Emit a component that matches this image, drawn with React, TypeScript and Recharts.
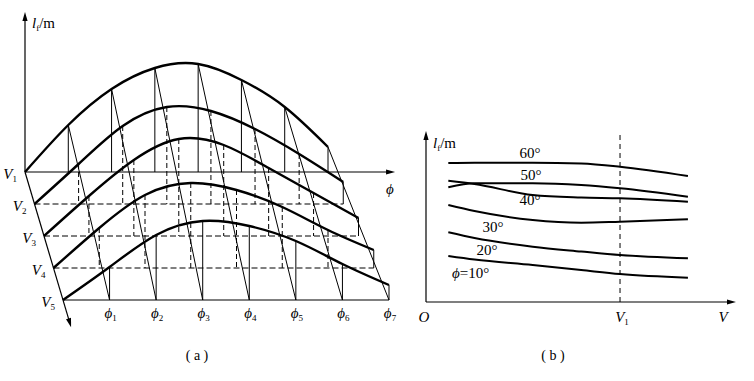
import React from 'react'
import { ComposedChart, Line, XAxis, YAxis, ReferenceLine } from 'recharts'

// ---- panel (a): l_f over phi0..phi7, one curve per speed plane V1..V5 (1 unit = 10 px)
const phiSubs = ['1', '2', '3', '4', '5', '6', '7']
const speedSubs = ['1', '2', '3', '4', '5']
const lfV1 = [0, 4.7, 8.3, 10.4, 10.8, 9.2, 6.5, 2.5]
const lfV2 = [0, 4.0, 7.8, 9.7, 9.3, 7.5, 5.0, 2.2]
const lfV3 = [0, 4.0, 7.6, 9.7, 9.1, 6.8, 4.3, 1.8]
const lfV4 = [0, 4.0, 7.3, 8.5, 7.8, 6.1, 3.8, 1.8]
const lfV5 = [0, 3.3, 6.5, 7.9, 7.4, 5.9, 3.6, 1.5]
const lfBySpeed = [lfV1, lfV2, lfV3, lfV4, lfV5]

// ---- panel (b): l_f over V for fixed phi
const speeds = [0.115, 0.25, 0.55, 0.8, 1.0, 1.35]
const lf60 = [13.9, 13.93, 13.93, 13.85, 13.53, 12.6]
const lf50 = [11.47, 11.87, 11.87, 11.7, 11.37, 10.53]
const lf40 = [12.13, 11.8, 10.7, 10.45, 10.37, 10.03]
const lf30 = [9.7, 9.1, 8.2, 7.93, 8.03, 8.27]
const lf20 = [6.97, 6.4, 5.53, 5.05, 4.7, 4.37]
const lf10 = [4.6, 4.25, 3.7, 3.2, 2.8, 2.43]
const angleSeries = [lf60, lf50, lf40, lf30, lf20, lf10]

const FONT = '"Liberation Serif", "DejaVu Serif", serif'
const PHI = 'ϕ'
const A_W = 400
const H = 381

// oblique projection used for panel (a); chart units are pixels with y pointing up
const ORIGIN = { x: 25, y: 172 }
const SHIFT = { x: 9.5, y: 32 }
const SPAN = 303
const SPAN_GROW = 5.75
const UNIT = 10

function proj(i: number, k: number, lf: number) {
  const span = SPAN + SPAN_GROW * k
  const px = ORIGIN.x + SHIFT.x * k + (span * i) / 7
  const py = ORIGIN.y + SHIFT.y * k - lf * UNIT
  return { x: px, y: H - py }
}
const toPx = (p: { x: number; y: number }) => ({ x: p.x, y: H - p.y })

type Seg = { key: string; pts: { x: number; y: number }[]; w: number; dash?: string; curve?: boolean }

function buildSegments(): Seg[] {
  const segs: Seg[] = []
  // axes
  segs.push({ key: 'ax-lf', pts: [proj(0, 0, 0), proj(0, 0, 15.3)], w: 1.2 })
  segs.push({ key: 'ax-phi', pts: [proj(0, 0, 0), proj(8.45, 0, 0)], w: 1.2 })
  segs.push({ key: 'ax-v', pts: [proj(0, 0, 0), proj(0, 4.7, 0)], w: 1.2 })
  segs.push({ key: 'base-5', pts: [proj(0, 4, 0), proj(7, 4, 0)], w: 1.2 })
  for (let k = 1; k <= 3; k++) {
    segs.push({ key: 'base-' + k, pts: [proj(0, k, 0), proj(7, k, 0)], w: 1, dash: '6 3' })
  }
  // verticals from each curve down to its own base
  lfBySpeed.forEach((arr, k) => {
    for (let i = 1; i <= 7; i++) {
      const solid = k === 0 || k === 4 || i === 7
      segs.push({
        key: `vert-${k}-${i}`,
        pts: [proj(i, k, arr[i]), proj(i, k, 0)],
        w: 1,
        dash: solid ? undefined : '5 3',
      })
    }
  })
  // slanted phi lines: V1 curve point to V5 base
  for (let i = 1; i <= 7; i++) {
    segs.push({ key: 'slant-' + i, pts: [proj(i, 0, lfV1[i]), proj(i, 4, 0)], w: 1 })
  }
  // curves
  lfBySpeed.forEach((arr, k) => {
    segs.push({ key: 'curve-' + k, pts: arr.map((v, i) => proj(i, k, v)), w: 2.4, curve: true })
  })
  return segs
}

function arrowHead(tip: { x: number; y: number }, dx: number, dy: number) {
  const len = Math.hypot(dx, dy)
  const ux = dx / len
  const uy = dy / len
  const L = 9
  const W = 2.6
  const bx = tip.x - ux * L
  const by = tip.y - uy * L
  return `${tip.x},${tip.y} ${bx - uy * W},${by + ux * W} ${bx + uy * W},${by - ux * W}`
}

function Sym({ x, y, main, sub, anchor = 'start', size = 15, italic = true }: {
  x: number; y: number; main: string; sub?: string; anchor?: 'start' | 'middle' | 'end'; size?: number; italic?: boolean
}) {
  return (
    <text x={x} y={y} textAnchor={anchor} fontFamily={FONT} fontSize={size} fill="#000">
      <tspan fontStyle={italic ? 'italic' : 'normal'}>{main}</tspan>
      {sub && <tspan fontSize={size * 0.6} dy={3}>{sub}</tspan>}
    </text>
  )
}

function LfLabel({ x, y }: { x: number; y: number }) {
  return (
    <text x={x} y={y} fontFamily={FONT} fontSize={15} fill="#000">
      <tspan fontStyle="italic">l</tspan>
      <tspan fontSize={9} dy={3}>f</tspan>
      <tspan dy={-3}>/m</tspan>
    </text>
  )
}

function Overlay() {
  const vTip = toPx(proj(0, 4.85, 0))
  return (
    <svg width={754} height={H} style={{ position: 'absolute', left: 0, top: 0, pointerEvents: 'none' }}>
      {/* panel (a) */}
      <polygon points={arrowHead({ x: 25, y: 12 }, 0, -1)} fill="#000" />
      <polygon points={arrowHead(toPx(proj(8.55, 0, 0)), 1, 0)} fill="#000" />
      <polygon points={arrowHead(vTip, SHIFT.x, SHIFT.y)} fill="#000" />
      <LfLabel x={32} y={28} />
      <Sym x={386} y={194} main={PHI} />
      {speedSubs.map((s, k) => {
        const p = toPx(proj(0, k, 0))
        return <Sym key={s} x={p.x - 8} y={p.y + 7} main="V" sub={s} anchor="end" />
      })}
      {phiSubs.map((s, i) => {
        const p = toPx(proj(i + 1, 4, 0))
        return <Sym key={s} x={p.x + 1} y={p.y + 18} main={PHI} sub={s} anchor="middle" />
      })}
      {/* panel (b) */}
      <polygon points={arrowHead({ x: 426, y: 131 }, 0, -1)} fill="#000" />
      <polygon points={arrowHead({ x: 736, y: 302 }, 1, 0)} fill="#000" />
      <LfLabel x={433} y={148} />
      <Sym x={424} y={322} main="O" anchor="middle" />
      <Sym x={723} y={322} main="V" anchor="middle" />
      <Sym x={622} y={322} main="V" sub="1" anchor="middle" />
      <Sym x={530} y={158} main="60°" anchor="middle" italic={false} />
      <Sym x={531} y={180} main="50°" anchor="middle" italic={false} />
      <Sym x={530} y={205} main="40°" anchor="middle" italic={false} />
      <Sym x={493} y={232} main="30°" anchor="middle" italic={false} />
      <Sym x={487} y={255} main="20°" anchor="middle" italic={false} />
      <text x={452} y={278} fontFamily={FONT} fontSize={15} fill="#000">
        <tspan fontStyle="italic">{PHI}</tspan>
        <tspan>=10°</tspan>
      </text>
      <text x={197} y={360} textAnchor="middle" fontFamily={FONT} fontSize={14} fill="#000" style={{ whiteSpace: 'pre' }}>( a )</text>
      <text x={553} y={360} textAnchor="middle" fontFamily={FONT} fontSize={14} fill="#000" style={{ whiteSpace: 'pre' }}>( b )</text>
    </svg>
  )
}

export default function App() {
  const segs = buildSegments()
  return (
    <div style={{ position: 'absolute', left: 0, top: 0, width: 754, height: H, background: '#fff' }}>
      <div style={{ position: 'absolute', left: 0, top: 0 }}>
        <ComposedChart width={A_W} height={H} margin={{ top: 0, right: 0, bottom: 0, left: 0 }}>
          <XAxis type="number" dataKey="x" domain={[0, A_W]} hide allowDataOverflow />
          <YAxis type="number" dataKey="y" domain={[0, H]} hide allowDataOverflow />
          {segs.map((s) => (
            <Line
              key={s.key}
              data={s.pts}
              dataKey="y"
              type={s.curve ? 'natural' : 'linear'}
              stroke="#000"
              strokeWidth={s.w}
              strokeDasharray={s.dash}
              dot={false}
              activeDot={false}
              isAnimationActive={false}
            />
          ))}
        </ComposedChart>
      </div>
      <div style={{ position: 'absolute', left: A_W, top: 0 }}>
        <ComposedChart width={754 - A_W} height={H} margin={{ top: 135, right: 23, bottom: 79, left: 26 }}>
          <XAxis type="number" dataKey="v" domain={[0, 1.572]} hide allowDataOverflow />
          <YAxis type="number" domain={[0, 16.7]} hide allowDataOverflow />
          <ReferenceLine x={0} stroke="#000" strokeWidth={1.2} />
          <ReferenceLine y={0} stroke="#000" strokeWidth={1.2} />
          <ReferenceLine x={1} stroke="#000" strokeWidth={1} strokeDasharray="5 4" />
          {angleSeries.map((arr, j) => (
            <Line
              key={'ang-' + j}
              data={speeds.map((v, n) => ({ v, lf: arr[n] }))}
              dataKey="lf"
              type="monotone"
              stroke="#000"
              strokeWidth={2}
              dot={false}
              activeDot={false}
              isAnimationActive={false}
            />
          ))}
        </ComposedChart>
      </div>
      <Overlay />
    </div>
  )
}
